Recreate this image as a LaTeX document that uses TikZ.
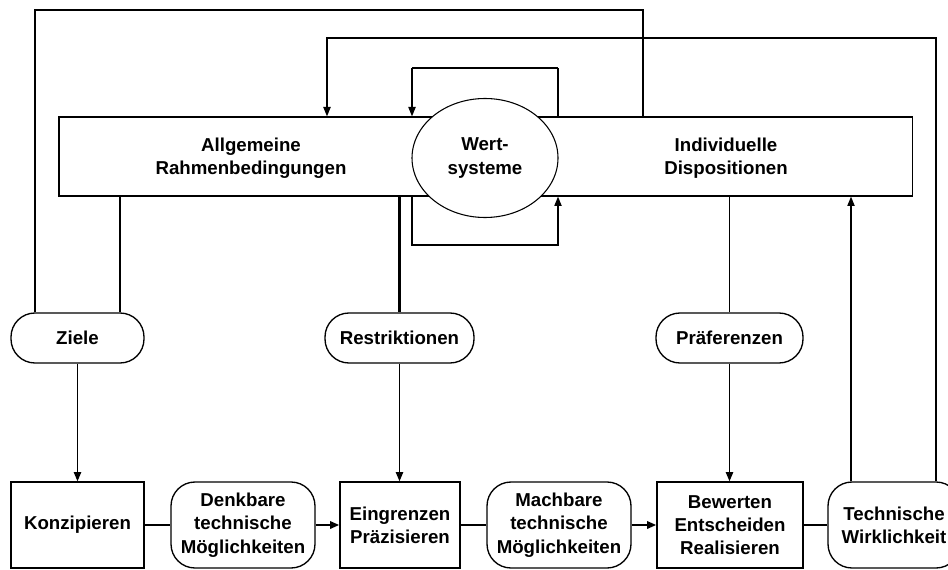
\documentclass[tikz,border=0pt]{standalone}
\usepackage{fontspec}
\setmainfont{Liberation Sans}
\usetikzlibrary{positioning, arrows.meta, shapes.geometric}

\begin{document}
\begin{tikzpicture}[
        x=0.75pt, y=-0.75pt, >={Triangle[width=5.5pt, length=7pt]},
        font=\fontsize{14}{17.5}\selectfont\bfseries,
        task/.style={rectangle, draw, line width=1pt, minimum height=64.5pt, align=center, inner sep=2pt},
        soft/.style={rectangle, rounded corners=18pt, draw, line width=1pt, minimum height=64.5pt, align=center, inner sep=2pt},
        input/.style={rectangle, rounded corners=18pt, draw, line width=1pt, minimum height=37.5pt, inner sep=2pt},
        link/.style={line width=0.8pt},
        flow/.style={line width=2pt}
    ]
        \useasboundingbox (0,0) rectangle (948,570);

        % --- FRAME: Rahmen & Wertsysteme ---
        \node[draw, line width=1pt, minimum width=640pt, minimum height=59.25pt] (rahmen) at (485.5,156.5) {};
        \node[align=center] (allg) at (251,158) {Allgemeine\\Rahmenbedingungen};
        \node[align=center] (indiv) at (726,158) {Individuelle\\Dispositionen};
        \node[ellipse, draw, fill=white, line width=0.8pt, minimum width=109.5pt, minimum height=89.25pt, align=center, inner sep=0pt] (wert) at (485,158) {Wert-\\systeme};

        % --- INPUTS ---
        \node[input, minimum width=99.75pt] (ziele) at (77.5,338) {Ziele};
        \node[input, minimum width=111.75pt] (restr) at (399.5,338) {Restriktionen};
        \node[input, minimum width=110.25pt] (praef) at (729.5,338) {Präferenzen};

        % --- PROCESS ROW ---
        \node[task, minimum width=99.75pt] (konz) at (77.5,525) {Konzipieren};
        \node[soft, minimum width=108pt] (denk) at (243,525) {Denkbare\\technische\\Möglichkeiten};
        \node[task, minimum width=90pt] (eing) at (400,525) {Eingrenzen\\Präzisieren};
        \node[soft, minimum width=108pt] (mach) at (559,525) {Machbare\\technische\\Möglichkeiten};
        \node[task, minimum width=109.5pt] (bew) at (730,525) {Bewerten\\Entscheiden\\Realisieren};
        \node[soft, minimum width=99pt] (tech) at (894,525) {Technische\\Wirklichkeit};

        % --- LOOP CORNERS ---
        \coordinate (outerL) at (35,10);
        \coordinate (outerR) at (643,10);
        \coordinate (backL) at (327,38);
        \coordinate (backR) at (936,38);
        \coordinate (loopTL) at (412,68);
        \coordinate (loopTR) at (558,68);
        \coordinate (loopBL) at (412,245);
        \coordinate (loopBR) at (558,245);
        \coordinate (zieleR) at (120,0);
        \coordinate (techL) at (851,0);

        % Outer feedback loops
        \draw[link] (outerL |- ziele.north) -- (outerL) -- (outerR) -- (outerR |- rahmen.north);
        \draw[link, ->] (backR |- tech.north) -- (backR) -- (backL) -- (backL |- rahmen.north);

        % Wertsysteme loop
        \draw[link] (loopTR |- rahmen.north) -- (loopTR);
        \draw[line width=2.2pt] (loopTR) -- (loopTL);
        \draw[link, ->] (loopTL) -- (loopTL |- rahmen.north);
        \draw[link, ->] (loopBL |- rahmen.south) -- (loopBL) -- (loopBR) -- (loopBR |- rahmen.south);

        % Frame to inputs
        \draw[link] (zieleR |- rahmen.south) -- (zieleR |- ziele.north);
        \draw[line width=1.6pt] (restr.north |- rahmen.south) -- (restr.north);
        \draw[link] (praef.north |- rahmen.south) -- (praef.north);
        \draw[link, ->] (techL |- tech.north) -- (techL |- rahmen.south);

        % Inputs to process
        \draw[line width=1.2pt, ->] (ziele.south) -- (ziele.south |- konz.north);
        \draw[line width=1.2pt, ->] (restr.south) -- (restr.south |- eing.north);
        \draw[line width=1.2pt, ->] (praef.south) -- (praef.south |- bew.north);

        % Process row
        \draw[flow] (konz) -- (denk);
        \draw[flow, ->] (denk) -- (eing);
        \draw[flow] (eing) -- (mach);
        \draw[flow, ->] (mach) -- (bew);
        \draw[flow] (bew) -- (tech);

    \end{tikzpicture}
\end{document}
